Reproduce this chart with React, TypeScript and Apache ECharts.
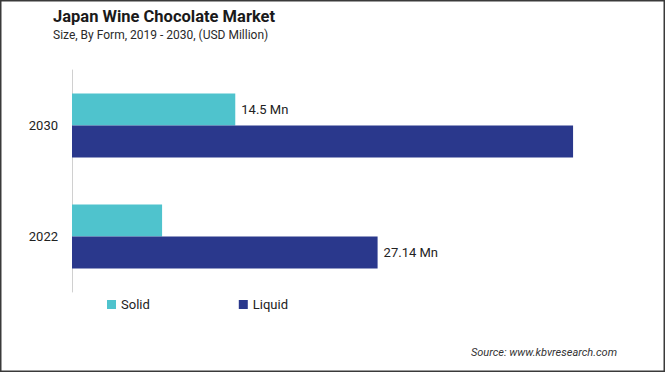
import React, { useEffect, useRef } from "react";
import * as echarts from "echarts";

const categories = ["2022", "2030"];
const solidValues = [8.0, 14.5];
const liquidValues = [27.14, 44.5];
const solidLabels = ["", "14.5 Mn"];
const liquidLabels = ["27.14 Mn", ""];
const legendNames = ["Solid", "Liquid"];

const TEAL = "#4FC3CD";
const NAVY = "#2A388C";
const FONT = "Roboto, 'Liberation Sans', sans-serif";

function mkData(values: number[], labels: string[]) {
  return values.map((v, i) => ({
    value: v,
    label: labels[i]
      ? { show: true, position: "right", distance: 6, formatter: labels[i] }
      : { show: false },
  }));
}

export default function App() {
  const ref = useRef<HTMLDivElement>(null);
  useEffect(() => {
    if (!ref.current) return;
    const chart = echarts.init(ref.current, undefined, { renderer: "svg" });
    chart.setOption({
      animation: false,
      backgroundColor: "#ffffff",
      textStyle: { fontFamily: FONT },
      title: {
        text: "Japan Wine Chocolate Market",
        subtext: "Size, By Form, 2019 - 2030, (USD Million)",
        left: 48,
        top: 3,
        itemGap: 4,
        textStyle: { fontFamily: FONT, fontSize: 16.5, fontWeight: "bold", color: "#1a1a1a" },
        subtextStyle: { fontFamily: FONT, fontSize: 12, color: "#2a2a2a" },
      },
      legend: {
        data: legendNames,
        left: 102,
        top: 293,
        itemWidth: 9,
        itemHeight: 9,
        itemGap: 89,
        icon: "rect",
        textStyle: { fontFamily: FONT, fontSize: 13, color: "#222" },
      },
      grid: { left: 72, top: 70, height: 222, right: 30 },
      xAxis: {
        type: "value",
        min: 0,
        max: 50,
        show: false,
      },
      yAxis: {
        type: "category",
        data: categories,
        axisLine: { show: true, lineStyle: { color: "#d0d0d0", width: 1 } },
        axisTick: { show: false },
        axisLabel: { fontFamily: FONT, fontSize: 13, color: "#222", margin: 14 },
      },
      series: [
        {
          name: "Solid",
          type: "bar",
          data: mkData(solidValues, solidLabels),
          barWidth: 32,
          barGap: "0%",
          itemStyle: { color: TEAL },
          label: { fontFamily: FONT, fontSize: 13, color: "#222" },
        },
        {
          name: "Liquid",
          type: "bar",
          data: mkData(liquidValues, liquidLabels),
          barWidth: 32,
          barGap: "0%",
          itemStyle: { color: NAVY },
          label: { fontFamily: FONT, fontSize: 13, color: "#222" },
        },
      ],
      graphic: [
        {
          type: "rect",
          shape: { x: 0.75, y: 0.75, width: 663.5, height: 370.5 },
          style: { fill: "none", stroke: "#3a3a3a", lineWidth: 1.5 },
          silent: true,
        },
        {
          type: "text",
          right: 48,
          top: 347,
          style: {
            text: "Source: www.kbvresearch.com",
            font: "italic 11px " + FONT,
            fill: "#333",
          },
        },
      ],
    });
    return () => chart.dispose();
  }, []);
  return (
    <div
      ref={ref}
      style={{ position: "fixed", left: 0, top: 0, width: 665, height: 372 }}
    />
  );
}
